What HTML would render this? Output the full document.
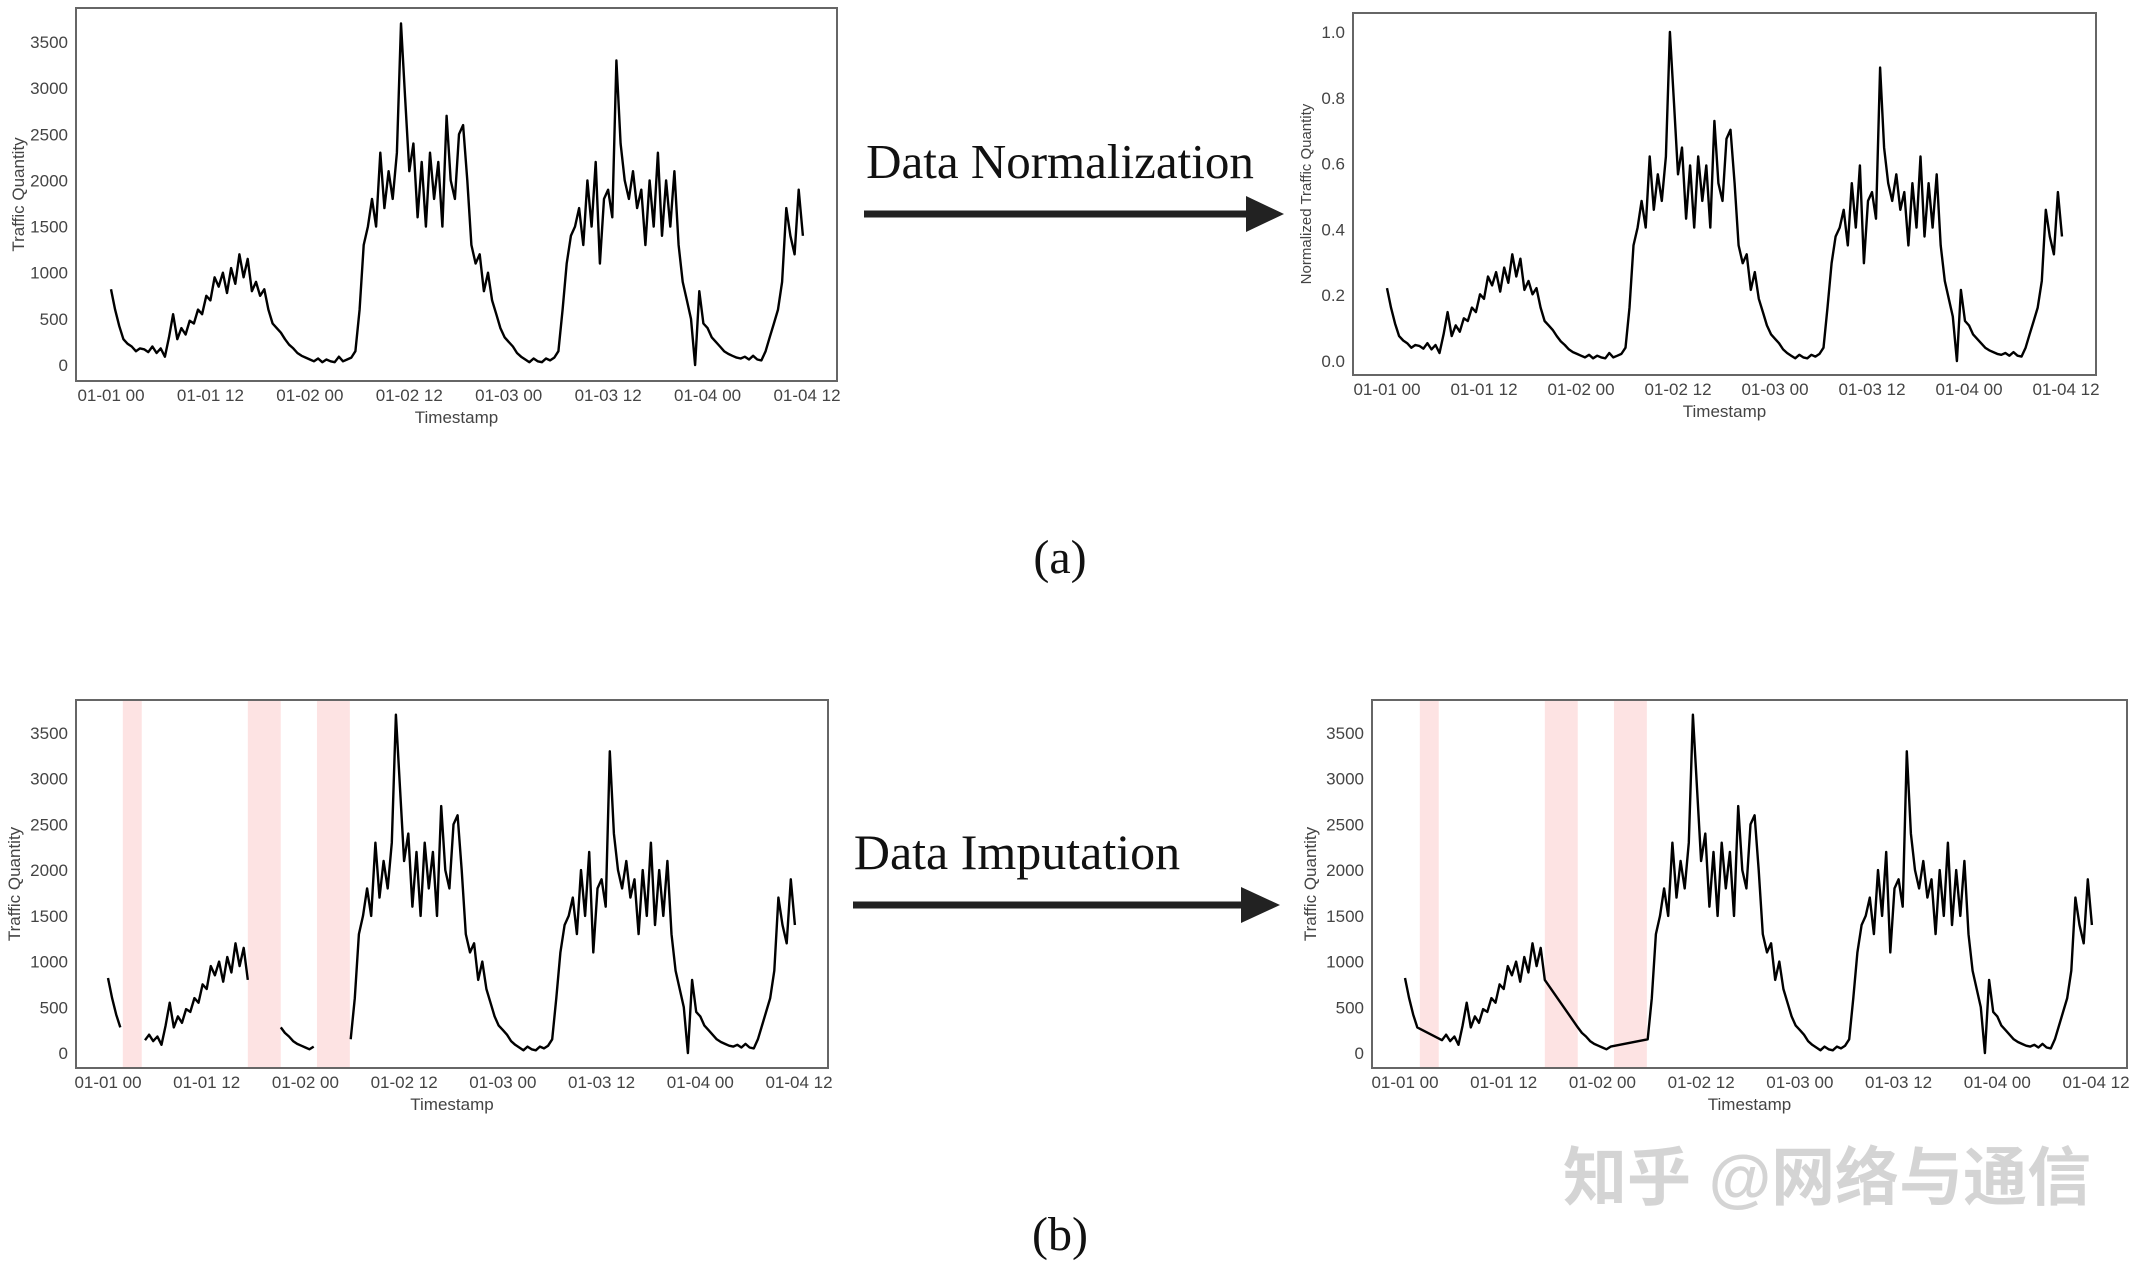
<!DOCTYPE html>
<html><head><meta charset="utf-8">
<style>
html,body{margin:0;padding:0;background:#fff;}
svg{display:block;}
.tick{font-family:"Liberation Sans",sans-serif;font-size:17px;fill:#444;}
.lab{font-family:"Liberation Sans",sans-serif;font-size:17px;fill:#444;}
.ser{font-family:"Liberation Serif",serif;fill:#111;}
</style></head>
<body>
<svg id="root" width="2141" height="1264" viewBox="0 0 2141 1264" xmlns="http://www.w3.org/2000/svg">
  <text class="ser" x="1060" y="178" font-size="49" text-anchor="middle">Data Normalization</text>
  <line x1="864" y1="214" x2="1250" y2="214" stroke="#222" stroke-width="7"/>
  <polygon points="1246,196 1284,214 1246,232" fill="#222"/>
  <text class="ser" x="1017" y="869" font-size="50" text-anchor="middle">Data Imputation</text>
  <line x1="853" y1="905" x2="1245" y2="905" stroke="#222" stroke-width="7"/>
  <polygon points="1241,887 1280,905 1241,923" fill="#222"/>
  <text class="ser" x="1060" y="573" font-size="48" text-anchor="middle">(a)</text>
  <text class="ser" x="1060" y="1250" font-size="48" text-anchor="middle">(b)</text>
  <text x="1563" y="1200" font-size="64" fill="#d4d4d4" font-family="'Liberation Sans','Noto Sans CJK SC',sans-serif" font-weight="bold">知乎 @网络与通信</text>
</svg>
<script>
const hours = [];
for (let i = 0; i < 168; i++) hours.push(i * 0.5);
const traffic = [
820,600,420,280, 230,200,150,180, 170,140,200,130, 180,90,300,550,
280,400,330,480, 450,600,550,750, 700,950,850,1000, 780,1050,880,1200,
950,1150,800,900, 750,820,600,450, 400,350,280,220, 180,130,100,80,
60,40,70,30, 60,40,30,90, 40,60,80,150, 600,1300,1500,1800,
1500,2300,1700,2100, 1800,2300,3700,2900, 2100,2400,1600,2200, 1500,2300,1800,2200,
1500,2700,2000,1800, 2500,2600,2000,1300, 1100,1200,800,1000, 700,550,400,300,
250,200,130,90, 60,30,70,40, 30,70,50,80, 150,600,1100,1400,
1500,1700,1300,2000, 1500,2200,1100,1800, 1900,1600,3300,2400, 2000,1800,2100,1700,
1900,1300,2000,1500, 2300,1400,2000,1500, 2100,1300,900,700, 500,0,800,450,
400,300,250,200, 150,120,100,80, 70,90,60,100, 60,50,150,300,
450,600,900,1700, 1400,1200,1900,1400
];
const missingGaps = [[1.8,4.1],[17,21],[25.4,29.4]];
const xTickLabels = ["01-01 00","01-01 12","01-02 00","01-02 12","01-03 00","01-03 12","01-04 00","01-04 12"];
const xTickHours = [0,12,24,36,48,60,72,84];
const yTicksTraffic = [0,500,1000,1500,2000,2500,3000,3500];
const yTicksNorm = [0,0.2,0.4,0.6,0.8,1.0];

const NS = "http://www.w3.org/2000/svg";
const root = document.getElementById('root');
function mk(tag, attrs, parent) {
  const e = document.createElementNS(NS, tag);
  for (const k in attrs) e.setAttribute(k, attrs[k]);
  (parent || root).appendChild(e);
  return e;
}
const tmin = Math.min(...traffic), tmax = Math.max(...traffic);
const normalized = traffic.map(v => (v - tmin) / (tmax - tmin));
function inGap(h){ return missingGaps.some(g => h > g[0] && h < g[1]); }

function chart(cfg) {
  const g = mk('g', {});
  
  
  const xs = h => cfg.x0 + (h / 84) * (cfg.x84 - cfg.x0);
  const ys = v => cfg.yv0 + (v - cfg.v0) / (cfg.v1 - cfg.v0) * (cfg.yv1 - cfg.yv0);
  if (cfg.gaps) {
    cfg.gaps.forEach((gp, i) => {
      const r = mk('rect', {x: xs(gp[0]), y: cfg.top, width: xs(gp[1]) - xs(gp[0]), height: cfg.bottom - cfg.top, fill: '#fde3e3'}, g);
      
      
    });
  }
  const fr = mk('rect', {x: cfg.left, y: cfg.top, width: cfg.right - cfg.left, height: cfg.bottom - cfg.top, fill: 'none', stroke: '#666', 'stroke-width': 2}, g);
  
  
  cfg.yticks.forEach(v => {
    const t = mk('text', {x: cfg.left - 8, y: ys(v) + 6, 'text-anchor': 'end', class: 'tick'}, g);
    t.textContent = cfg.fmt(v);
    
    
  });
  xTickHours.forEach((h, i) => {
    const t = mk('text', {x: xs(h), y: cfg.bottom + 20, 'text-anchor': 'middle', class: 'tick'}, g);
    t.textContent = xTickLabels[i];
    
    
  });
  const xl = mk('text', {x: (cfg.left + cfg.right) / 2, y: cfg.bottom + 42, 'text-anchor': 'middle', class: 'lab'}, g);
  xl.textContent = 'Timestamp';
  
  
  const yc = (cfg.top + cfg.bottom) / 2;
  const yl = mk('text', {x: cfg.left - cfg.ylOff, y: yc, 'text-anchor': 'middle', class: 'lab', transform: 'rotate(-90 ' + (cfg.left - cfg.ylOff) + ' ' + yc + ')'}, g);
  yl.textContent = cfg.ylabel;
  yl.style.fontSize = cfg.ylSize + 'px';
  
  
  let segs = [], cur = [];
  hours.forEach((h, i) => {
    if (cfg.mode === 'missing' && inGap(h)) { if (cur.length) segs.push(cur); cur = []; return; }
    if (cfg.mode === 'imputed' && inGap(h)) return;
    cur.push(xs(h).toFixed(1) + ',' + ys(cfg.values[i]).toFixed(1));
  });
  if (cur.length) segs.push(cur);
  segs.forEach(s => {
    const p = mk('polyline', {points: s.join(' '), fill: 'none', stroke: '#000', 'stroke-width': 2.4, 'stroke-linejoin': 'round'}, g);
    
    
  });
}
const fmtInt = v => String(v);
const fmtDec = v => v.toFixed(1);
chart({name:'raw-traffic-chart', left:76, right:837, top:8, bottom:381, x0:111, x84:807, v0:0, v1:3500, yv0:365, yv1:42, yticks:yTicksTraffic, fmt:fmtInt, values:traffic, ylabel:'Traffic Quantity', ylOff:52, ylSize:17, mode:'full'});
chart({name:'normalized-traffic-chart', left:1353, right:2096, top:13, bottom:375, x0:1387, x84:2066, v0:0, v1:1, yv0:361, yv1:32, yticks:yTicksNorm, fmt:fmtDec, values:normalized, ylabel:'Normalized Traffic Quantity', ylOff:42, ylSize:15, mode:'full'});
chart({name:'missing-traffic-chart', left:76, right:828, top:700, bottom:1068, x0:108, x84:799, v0:0, v1:3500, yv0:1053, yv1:733, yticks:yTicksTraffic, fmt:fmtInt, values:traffic, ylabel:'Traffic Quantity', ylOff:56, ylSize:17, mode:'missing', gaps:missingGaps});
chart({name:'imputed-traffic-chart', left:1372, right:2127, top:700, bottom:1068, x0:1405, x84:2096, v0:0, v1:3500, yv0:1053, yv1:733, yticks:yTicksTraffic, fmt:fmtInt, values:traffic, ylabel:'Traffic Quantity', ylOff:56, ylSize:17, mode:'imputed', gaps:missingGaps});
</script>
</body></html>
